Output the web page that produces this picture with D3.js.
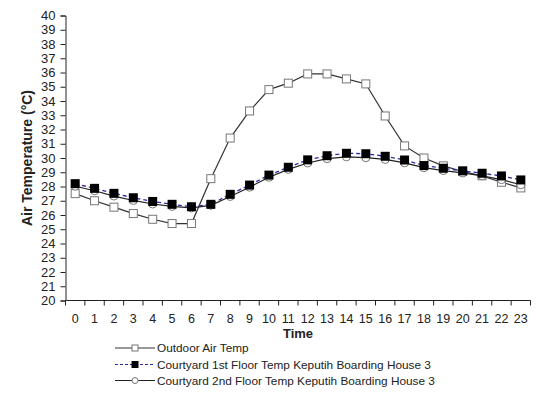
<!DOCTYPE html>
<html>
<head>
<meta charset="utf-8">
<script src="https://cdn.jsdelivr.net/npm/d3@7"></script>
<style>
  html, body { margin: 0; padding: 0; background: #fff; }
  svg { display: block; font-family: "Liberation Sans", Arial, sans-serif; }
</style>
</head>
<body>
<svg id="chart" width="541" height="394"></svg>
<script>
// Hourly air temperature (°C)
const hours = d3.range(0, 24);
const outdoor = [27.5, 27.0, 26.55, 26.1, 25.7, 25.4, 25.4, 28.55, 31.4, 33.3, 34.8, 35.25, 35.9, 35.9, 35.55, 35.2, 32.95, 30.85, 30.0, 29.45, 29.05, 28.75, 28.3, 27.9];
const floor1 = [28.2, 27.87, 27.52, 27.21, 26.95, 26.75, 26.58, 26.75, 27.45, 28.1, 28.8, 29.35, 29.87, 30.16, 30.33, 30.3, 30.12, 29.86, 29.47, 29.28, 29.1, 28.93, 28.74, 28.46];
const floor2 = [28.02, 27.7, 27.33, 27.02, 26.77, 26.6, 26.5, 26.68, 27.3, 27.95, 28.65, 29.2, 29.65, 29.95, 30.08, 30.02, 29.9, 29.66, 29.32, 29.12, 28.95, 28.75, 28.48, 28.12];
const yTicks = d3.range(20, 41);
const seriesNames = [
  "Outdoor Air Temp",
  "Courtyard 1st Floor Temp Keputih Boarding House 3",
  "Courtyard 2nd Floor Temp Keputih Boarding House 3"
];

const svg = d3.select("#chart");
const plotL = 65.5, plotR = 530.5, plotT = 15.5, plotB = 300.5;

const x = d3.scaleBand().domain(hours).range([plotL, plotR]);
const y = d3.scaleLinear().domain([20, 40]).range([plotB, plotT]);
const cx = h => x(h) + x.bandwidth() / 2;

// Y axis
const yAxis = svg.append("g").attr("transform", `translate(${plotL},0)`)
  .call(d3.axisLeft(y).tickValues(yTicks).tickSize(5).tickPadding(5).tickFormat(d3.format("d")));
yAxis.select(".domain").attr("stroke", "#222");
yAxis.selectAll(".tick line").attr("stroke", "#222");
yAxis.selectAll("text").attr("font-size", 13).attr("fill", "#222").attr("font-family", "Liberation Sans, Arial, sans-serif");

// X axis: ticks at band edges, labels at band centres
const xg = svg.append("g").attr("transform", `translate(0,${plotB})`);
xg.append("line").attr("x1", plotL).attr("x2", plotR).attr("stroke", "#222");
const edges = hours.map(h => x(h)).concat([plotR]);
xg.selectAll("line.tk").data(edges).enter().append("line")
  .attr("class", "tk").attr("x1", d => d).attr("x2", d => d)
  .attr("y1", 0).attr("y2", 5).attr("stroke", "#222");
xg.selectAll("text").data(hours).enter().append("text")
  .attr("x", d => cx(d)).attr("y", 22).attr("text-anchor", "middle")
  .attr("font-size", 12.5).attr("fill", "#222").text(d => d);

// Axis titles
svg.append("text").attr("x", 298).attr("y", 338)
  .attr("text-anchor", "middle").attr("font-size", 13).attr("font-weight", "bold")
  .attr("fill", "#222").text("Time");
svg.append("text").attr("transform", `translate(32,158) rotate(-90)`)
  .attr("text-anchor", "middle").attr("font-size", 14).attr("font-weight", "bold")
  .attr("fill", "#222").text("Air Temperature (°C)");

const line = d3.line().x((d, i) => cx(hours[i])).y(d => y(d));

// Outdoor: solid line, open squares
svg.append("path").datum(outdoor).attr("d", line)
  .attr("fill", "none").attr("stroke", "#333").attr("stroke-width", 1.2);
svg.selectAll("rect.out").data(outdoor).enter().append("rect")
  .attr("class", "out")
  .attr("x", (d, i) => cx(hours[i]) - 4).attr("y", d => y(d) - 4)
  .attr("width", 8).attr("height", 8)
  .attr("fill", "#fff").attr("stroke", "#777").attr("stroke-width", 1);

// 2nd floor: solid line, open circles
svg.append("path").datum(floor2).attr("d", line)
  .attr("fill", "none").attr("stroke", "#222").attr("stroke-width", 1.2);
svg.selectAll("circle.f2").data(floor2).enter().append("circle")
  .attr("class", "f2")
  .attr("cx", (d, i) => cx(hours[i])).attr("cy", d => y(d)).attr("r", 4)
  .attr("fill", "#fff").attr("stroke", "#777").attr("stroke-width", 1);

// 1st floor: dashed blue line, filled squares
svg.append("path").datum(floor1).attr("d", line)
  .attr("fill", "none").attr("stroke", "#2a2aa8").attr("stroke-width", 1.3)
  .attr("stroke-dasharray", "4,3");
svg.selectAll("rect.f1").data(floor1).enter().append("rect")
  .attr("class", "f1")
  .attr("x", (d, i) => cx(hours[i]) - 4.5).attr("y", d => y(d) - 4.5)
  .attr("width", 9).attr("height", 9).attr("fill", "#000");

// Legend
const legY = [348, 364.5, 380.5];
const lx1 = 115, lx2 = 155, lmid = 135;
const leg = svg.append("g");
seriesNames.forEach((name, i) => {
  const g = leg.append("g");
  const ln = g.append("line").attr("x1", lx1).attr("x2", lx2)
    .attr("y1", legY[i]).attr("y2", legY[i]).attr("stroke-width", 1.2);
  if (i === 0) {
    ln.attr("stroke", "#333");
    g.append("rect").attr("x", lmid - 3).attr("y", legY[i] - 3).attr("width", 6).attr("height", 6)
      .attr("fill", "#fff").attr("stroke", "#777");
  } else if (i === 1) {
    ln.attr("stroke", "#2a2aa8").attr("stroke-dasharray", "3,2");
    g.append("rect").attr("x", lmid - 3.5).attr("y", legY[i] - 3.5).attr("width", 7).attr("height", 7)
      .attr("fill", "#000");
  } else {
    ln.attr("stroke", "#222");
    g.append("circle").attr("cx", lmid).attr("cy", legY[i]).attr("r", 3)
      .attr("fill", "#fff").attr("stroke", "#777");
  }
  g.append("text").attr("x", 157).attr("y", legY[i] + 4.3)
    .attr("font-size", 11.8).attr("fill", "#222").text(name);
});
</script>
</body>
</html>
